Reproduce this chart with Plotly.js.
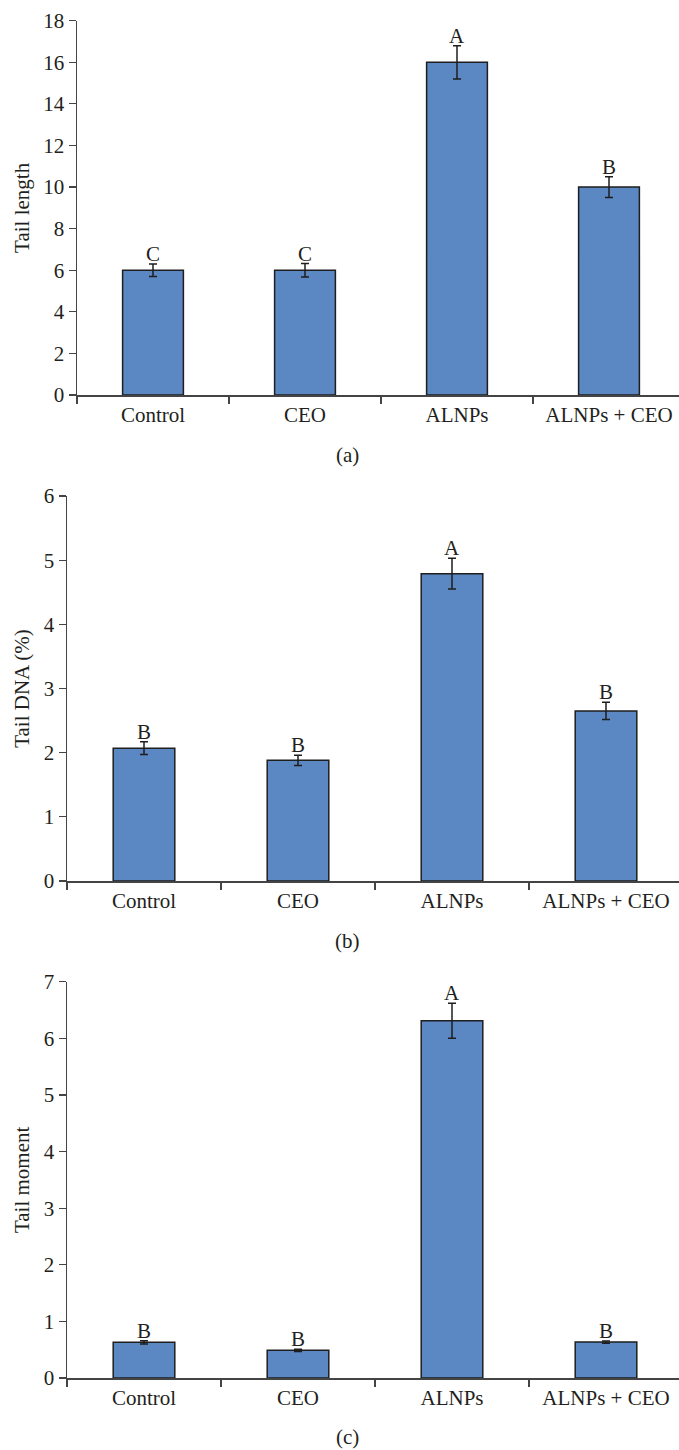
<!DOCTYPE html>
<html>
<head>
<meta charset="utf-8">
<script src="https://cdn.plot.ly/plotly-3.0.1.min.js"></script>
<style>html,body{margin:0;padding:0;background:#fff;}</style>
</head>
<body>
<div id="chart" style="width:679px;height:1450px;"></div>
<script>
const categories = ["Control", "CEO", "ALNPs", "ALNPs + CEO"];

const tailLength = [6, 6, 16, 10];
const tailLengthErr = [0.3, 0.32, 0.8, 0.5];
const tailLengthLetters = ["C", "C", "A", "B"];

const tailDNA = [2.07, 1.88, 4.79, 2.65];
const tailDNAErr = [0.1, 0.08, 0.24, 0.135];
const tailDNALetters = ["B", "B", "A", "B"];

const tailMoment = [0.63, 0.49, 6.31, 0.635];
const tailMomentErr = [0.03, 0.02, 0.31, 0.02];
const tailMomentLetters = ["B", "B", "A", "B"];

const panelLabels = ["(a)", "(b)", "(c)"];
const yTitles = ["Tail length", "Tail DNA (%)", "Tail moment"];

const W = 679, H = 1450;
const FONT = "Liberation Serif, Times New Roman, serif";
const TXT = "#231f20";
const BAR = "#5b87c3";
const AX = "#444";
const FS = 21;

function bar(y, err, xa, ya) {
  return {
    type: "bar", x: categories, y: y, xaxis: xa, yaxis: ya,
    marker: {color: BAR, line: {color: "#1e1e1e", width: 1.5}},
    error_y: {type: "data", array: err, visible: true, color: "#1e1e1e", thickness: 1.5, width: 4},
    hoverinfo: "skip", showlegend: false
  };
}

const data = [
  bar(tailLength, tailLengthErr, "x", "y"),
  bar(tailDNA, tailDNAErr, "x2", "y2"),
  bar(tailMoment, tailMomentErr, "x3", "y3")
];

function px(v) { return v / W; }
function py(v) { return 1 - v / H; }

function xaxis(left, anchor, catW) {
  return {
    domain: [px(left), 1], anchor: anchor, type: "category",
    range: [-0.5, -0.5 + (W - left) / catW],
    showline: true, linecolor: AX, linewidth: 1.5,
    ticks: "outside", ticklen: 7, tickwidth: 1.2, tickcolor: AX, tickson: "boundaries",
    showgrid: false, zeroline: false, fixedrange: true,
    tickfont: {family: FONT, size: FS, color: TXT}
  };
}
function yaxis(bottom, top, anchor, rng, dtick, title) {
  return {
    domain: [py(bottom), py(top)], anchor: anchor, range: rng, dtick: dtick,
    showline: true, linecolor: AX, linewidth: 1.5,
    ticks: "outside", ticklen: 7, tickwidth: 1.2, tickcolor: AX,
    showgrid: false, zeroline: false, fixedrange: true,
    tickfont: {family: FONT, size: FS, color: TXT},
    title: {text: title, font: {family: FONT, size: FS, color: TXT}, standoff: 8}
  };
}

const layout = {
  width: W, height: H,
  margin: {l: 0, r: 0, t: 0, b: 0},
  paper_bgcolor: "#fff", plot_bgcolor: "#fff",
  bargap: 0.6,
  xaxis: xaxis(77, "y", 152),
  yaxis: yaxis(395, 20.7, "x", [0, 18], 2, yTitles[0]),
  xaxis2: xaxis(67, "y2", 154),
  yaxis2: yaxis(881, 496, "x2", [0, 6], 1, yTitles[1]),
  xaxis3: xaxis(67, "y3", 154),
  yaxis3: yaxis(1378, 981.7, "x3", [0, 7], 1, yTitles[2]),
  annotations: []
};

const sets = [
  [tailLength, tailLengthErr, tailLengthLetters, "x", "y"],
  [tailDNA, tailDNAErr, tailDNALetters, "x2", "y2"],
  [tailMoment, tailMomentErr, tailMomentLetters, "x3", "y3"]
];
sets.forEach(([vals, errs, letters, xa, ya]) => {
  categories.forEach((c, i) => {
    layout.annotations.push({
      x: c, y: vals[i] + errs[i], xref: xa, yref: ya,
      text: letters[i], showarrow: false, yanchor: "bottom", yshift: -4,
      font: {family: FONT, size: FS, color: TXT}
    });
  });
});

const labelY = [455, 941, 1437];
panelLabels.forEach((t, i) => {
  layout.annotations.push({
    x: px(347), y: py(labelY[i]), xref: "paper", yref: "paper",
    text: t, showarrow: false, xanchor: "center", yanchor: "middle",
    font: {family: FONT, size: FS, color: TXT}
  });
});

Plotly.newPlot("chart", data, layout, {displayModeBar: false, staticPlot: true});
</script>
</body>
</html>
